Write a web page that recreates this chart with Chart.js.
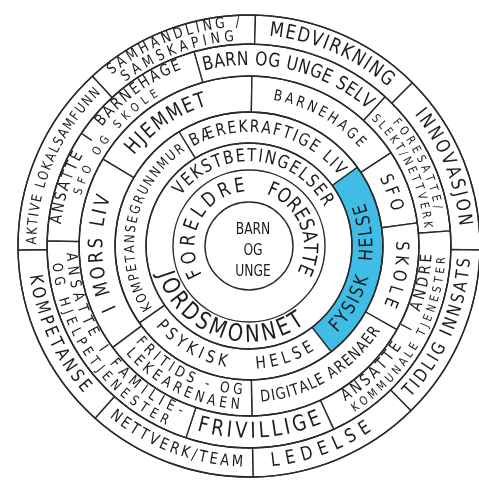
<!DOCTYPE html>
<html>
<head>
<meta charset="utf-8">
<script src="https://cdn.jsdelivr.net/npm/chart.js@4.4.1/dist/chart.umd.min.js"></script>
<style>
  html, body { margin: 0; background: #fff; }
  #wrap { width: 479px; height: 485px; }
</style>
</head>
<body>
<div id="wrap"><canvas id="wheel"></canvas></div>
<script>
// ring contents, outer ring first; spans are degrees (clockwise from 12 o'clock)
const outerLabels = ["SAMHANDLING /\nSAMSKAPING", "MEDVIRKNING", "INNOVASJON", "TIDLIG INNSATS", "LEDELSE", "NETTVERK/TEAM", "KOMPETANSE", "AKTIVE LOKALSAMFUNN"];
const outerSpans = [44.3, 43.4, 46, 44.5, 43.5, 42.8, 47.2, 48.3];
const outerStart = 317.3;

const ring6Labels = ["BARN OG UNGE SELV", "FORESATTE/\nSLEKT/NETTVERK", "ANSATTE  I  ANDRE\nKOMMUNALE TJENESTER", "FRIVILLIGE", "ANSATTE I FAMILIE-\nOG HJELPETJENESTER", "ANSATTE  I  BARNEHAGE\nSFO OG SKOLE"];
const ring6Spans = [58.2, 43.3, 69.5, 43, 73.3, 72.7];
const ring6Start = 344.2;

const ring5Labels = ["HJEMMET", "BARNEHAGE", "SFO", "SKOLE", "DIGITALE ARENAER", "FRITIDS - OG\nLEKEARENAEN", "I MORS LIV"];
const ring5Spans = [60.3, 55.7, 25.5, 37.3, 59.5, 54.4, 67.3];
const ring5Start = 300.7;

const ring4Labels = ["BÆREKRAFTIGE LIV", "FYSISK  HELSE", "PSYKISK   HELSE", "KOMPETANSEGRUNNMUR"];
const ring4Spans = [85.5, 88.2, 92.8, 93.5];
const ring4Start = 328.5;

// rings 3 and 2 have no dividers: blank spans only hold the gaps between texts
const ring3Labels = ["VEKSTBETINGELSER", "", "JORDSMONNET", ""];
const ring3Spans = [115.9, 81.6, 109, 53.5];
const ring3Start = 306.5;

const ring2Labels = ["FORESATTE", "", "FORELDRE", ""];
const ring2Spans = [99.2, 121, 117, 22.8];
const ring2Start = 18.8;

const centerLabels = ["BARN\nOG\nUNGE"];
const centerSpans = [360];
const centerStart = 0;

// ---- styling ----
const FONT = '"DejaVu Sans", sans-serif';
const SQUEEZE = 0.82; // hand lettering is tall and narrow
const LINE = "#2a2a2a";
const INK = "#1c1c1c";
const BLUE = "#3fbde6";
const highlighted = "FYSISK  HELSE";

const ringWeights = [29, 32, 36, 31, 27, 32, 44];
const divided = [true, true, true, true, false, false, false];

const labelStyle = {
  "SAMHANDLING /\nSAMSKAPING": { size: 15, size2: 15, fill: 0.82, fill2: 0.74, gap: 14 },
  "MEDVIRKNING": { size: 20, fill: 0.82 },
  "INNOVASJON": { size: 19, fill: 0.72 },
  "TIDLIG INNSATS": { size: 18, fill: 0.9 },
  "LEDELSE": { size: 19, fill: 0.64, shift: 3 },
  "NETTVERK/TEAM": { size: 16, fill: 0.88 },
  "KOMPETANSE": { size: 18, fill: 0.72 },
  "AKTIVE LOKALSAMFUNN": { size: 14, fill: 0.94 },
  "BARN OG UNGE SELV": { size: 19, fill: 0.95 },
  "FORESATTE/\nSLEKT/NETTVERK": { size: 12, size2: 12, fill: 0.68, fill2: 0.93, gap: 13 },
  "ANSATTE  I  ANDRE\nKOMMUNALE TJENESTER": { size: 16, size2: 12, fill: 0.8, fill2: 0.78, gap: 15 },
  "FRIVILLIGE": { size: 22, fill: 0.89 },
  "ANSATTE I FAMILIE-\nOG HJELPETJENESTER": { size: 15, size2: 14, fill: 0.9, fill2: 0.82, gap: 15 },
  "ANSATTE  I  BARNEHAGE\nSFO OG SKOLE": { size: 16, size2: 12, fill: 0.86, fill2: 0.58, gap: 15 },
  "HJEMMET": { size: 21, fill: 0.58, shift: -5 },
  "BARNEHAGE": { size: 15, fill: 0.7 },
  "SFO": { size: 18, fill: 0.55 },
  "SKOLE": { size: 18, fill: 0.68, dir: 1 },
  "DIGITALE ARENAER": { size: 16, fill: 0.89 },
  "FRITIDS - OG\nLEKEARENAEN": { size: 15, size2: 15, fill: 0.87, fill2: 0.84, gap: 15 },
  "I MORS LIV": { size: 20, fill: 0.66, dir: 1 },
  "BÆREKRAFTIGE LIV": { size: 17, fill: 0.95 },
  "FYSISK  HELSE": { size: 19, fill: 0.74, shift: 4 },
  "PSYKISK   HELSE": { size: 17, fill: 0.88 },
  "KOMPETANSEGRUNNMUR": { size: 14, fill: 0.95 },
  "VEKSTBETINGELSER": { size: 18, fill: 1 },
  "JORDSMONNET": { size: 24, fill: 1 },
  "FORELDRE": { size: 20, fill: 1 },
  "FORESATTE": { size: 20, fill: 1 },
  "BARN\nOG\nUNGE": { size: 15, lead: 21, dx: 4, dy: 5 },
};

const rings = [
  { labels: outerLabels, spans: outerSpans, start: outerStart },
  { labels: ring6Labels, spans: ring6Spans, start: ring6Start },
  { labels: ring5Labels, spans: ring5Spans, start: ring5Start },
  { labels: ring4Labels, spans: ring4Spans, start: ring4Start },
  { labels: ring3Labels, spans: ring3Spans, start: ring3Start },
  { labels: ring2Labels, spans: ring2Spans, start: ring2Start },
  { labels: centerLabels, spans: centerSpans, start: centerStart },
];

// one line of text bent along a circle; dir 1 = clockwise with tops outward, -1 = the other way
function arcLine(ctx, cx, cy, text, r, mid, span, dir, size, fill) {
  ctx.font = size + "px " + FONT;
  const chars = Array.from(text);
  const widths = chars.map((c) => ctx.measureText(c).width * SQUEEZE);
  const natural = widths.reduce((a, b) => a + b, 0);
  const target = span * fill * r;
  let f = 1;
  let gap = 0;
  if (natural > target) f = target / natural;
  else if (chars.length > 1) gap = (target - natural) / (chars.length - 1);
  const total = natural * f + gap * (chars.length - 1);
  let s = -total / 2;
  chars.forEach((c, k) => {
    const w = widths[k] * f;
    const a = mid + (dir * (s + w / 2)) / r;
    ctx.save();
    ctx.translate(cx + r * Math.cos(a), cy + r * Math.sin(a));
    ctx.rotate(a + (dir * Math.PI) / 2);
    ctx.scale(SQUEEZE * f, 1);
    ctx.fillText(c, 0, 0);
    ctx.restore();
    s += w + gap;
  });
}

const ringText = {
  id: "ringText",
  afterDatasetsDraw(chart) {
    const ctx = chart.ctx;
    ctx.save();
    ctx.strokeStyle = LINE;
    ctx.lineWidth = 1.4;
    chart.data.datasets.forEach((ds, i) => {
      const arc = chart.getDatasetMeta(i).data[0];
      ctx.beginPath();
      ctx.arc(arc.x, arc.y, arc.outerRadius, 0, Math.PI * 2);
      ctx.stroke();
    });

    ctx.fillStyle = INK;
    ctx.textAlign = "center";
    ctx.textBaseline = "middle";
    rings.forEach((ring, i) => {
      const meta = chart.getDatasetMeta(i);
      meta.data.forEach((arc, j) => {
        const label = ring.labels[j];
        if (!label) return;
        const st = labelStyle[label] || { size: 14, fill: 0.8 };
        const lines = label.split("\n");
        if (arc.innerRadius === 0) {
          ctx.font = st.size + "px " + FONT;
          const lead = st.lead || st.size * 1.4;
          lines.forEach((ln, k) => {
            ctx.save();
            ctx.translate(arc.x + (st.dx || 0), arc.y + (st.dy || 0) + (k - (lines.length - 1) / 2) * lead);
            ctx.scale(SQUEEZE, 1);
            ctx.fillText(ln, 0, 0);
            ctx.restore();
          });
          return;
        }
        const span = arc.endAngle - arc.startAngle;
        const mid = (arc.startAngle + arc.endAngle) / 2 + ((st.shift || 0) * Math.PI) / 180;
        const clock = ((((mid * 180) / Math.PI + 90) % 360) + 360) % 360;
        const dir = st.dir || (clock > 90 && clock < 270 ? -1 : 1);
        const rMid = (arc.innerRadius + arc.outerRadius) / 2;
        if (lines.length === 1) {
          arcLine(ctx, arc.x, arc.y, lines[0], rMid, mid, span, dir, st.size, st.fill);
        } else {
          const g = st.gap / 2;
          arcLine(ctx, arc.x, arc.y, lines[0], rMid + dir * g, mid, span, dir, st.size, st.fill);
          arcLine(ctx, arc.x, arc.y, lines[1], rMid - dir * g, mid, span, dir, st.size2, st.fill2);
        }
      });
    });
    ctx.restore();
  },
};

new Chart(document.getElementById("wheel"), {
  type: "pie",
  data: {
    labels: outerLabels,
    datasets: rings.map((ring, i) => ({
      data: ring.spans,
      rotation: ring.start,
      weight: ringWeights[i],
      backgroundColor: ring.labels.map((l) => (l === highlighted ? BLUE : "#ffffff")),
      borderColor: LINE,
      borderWidth: divided[i] ? 1.4 : 0,
    })),
  },
  options: {
    responsive: true,
    maintainAspectRatio: false,
    animation: false,
    events: [],
    radius: 231,
    layout: { padding: { left: 19, right: 0, top: 7, bottom: 0 } },
    plugins: { legend: { display: false }, tooltip: { enabled: false } },
  },
  plugins: [ringText],
});
</script>
</body>
</html>
